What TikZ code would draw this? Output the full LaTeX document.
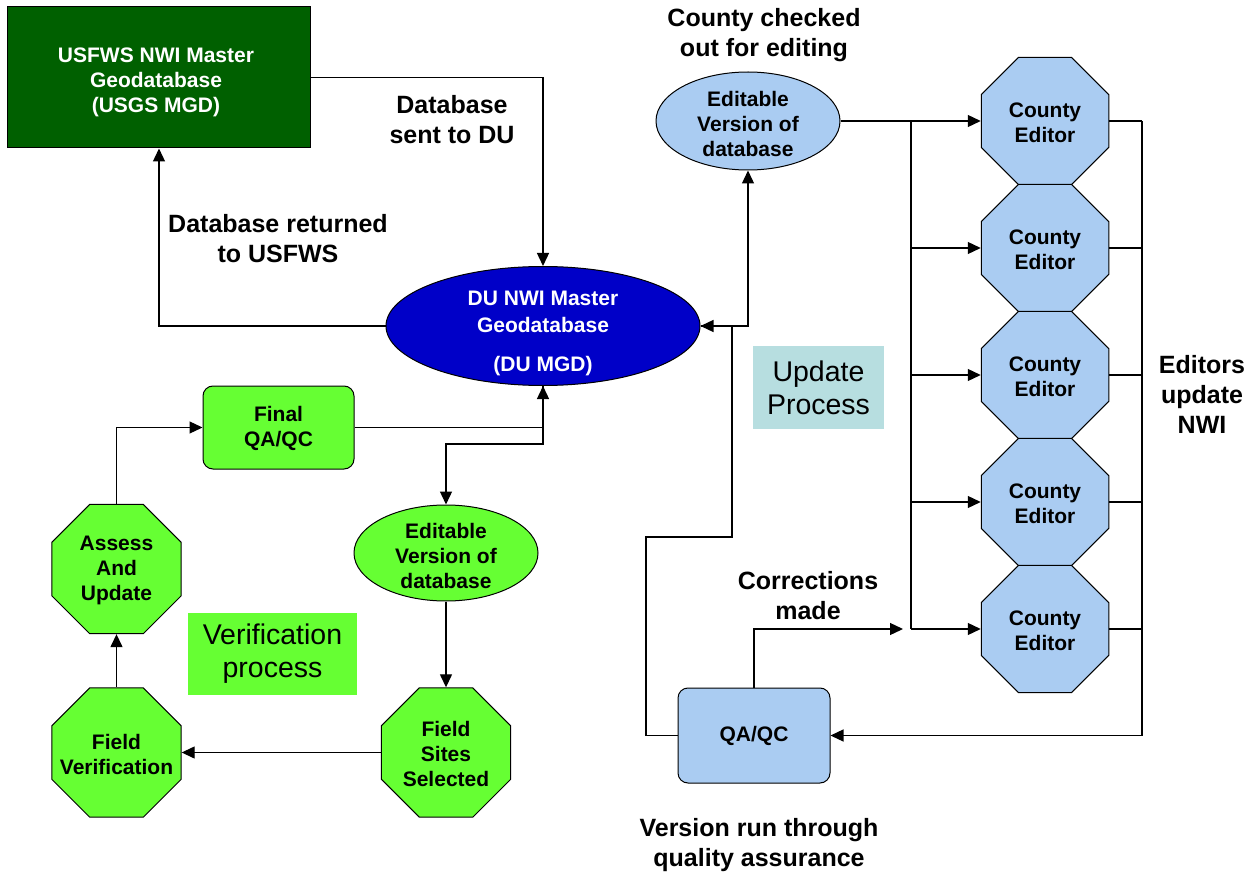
\documentclass[tikz,border=0pt]{standalone}
\usepackage{fontspec}
\setmainfont{Liberation Sans}
\usetikzlibrary{shapes.geometric,arrows.meta}
\definecolor{dkgreen}{RGB}{0,96,0}
\definecolor{dublue}{RGB}{0,0,200}
\definecolor{vgreen}{RGB}{102,255,51}
\definecolor{ltblue}{RGB}{170,204,242}
\definecolor{updcol}{RGB}{183,222,224}
\begin{document}
\begin{tikzpicture}[x=1pt,y=-1pt,
  nfont/.style={font=\fontsize{21}{25}\selectfont\bfseries},
  txt/.style={nfont, align=center, inner sep=0pt},
  lab/.style={font=\fontsize{25}{30}\selectfont\bfseries, align=center, inner sep=0pt},
  big/.style={font=\fontsize{28.5}{33}\selectfont, align=center, inner sep=0pt},
  oct/.style={regular polygon, regular polygon sides=8, draw=black, line width=1pt, inner sep=0pt},
  goct/.style={oct, fill=vgreen, minimum size=140pt},
  boct/.style={oct, fill=ltblue, minimum size=138pt},
  ell/.style={ellipse, draw=black, line width=1pt, inner sep=0pt},
  rbox/.style={rectangle, rounded corners=10pt, draw=black, line width=1pt, inner sep=0pt},
  conn/.style={line width=1.3pt},
  arr/.style={conn, -{Triangle[length=13pt,width=12pt]}},
]
\fill[white] (0,0) rectangle (1256,877);
\path[use as bounding box] (0,0) rectangle (1256,877);

% top-left master
\node[rectangle, draw=black, line width=1pt, fill=dkgreen, minimum width=303pt, minimum height=141pt, inner sep=0pt] (usfws) at (159,77.5) {};
\node[txt, text=white] (usfwst) at (156,82) {USFWS NWI Master\\Geodatabase\\(USGS MGD)};

% DU master
\node[ell, fill=dublue, minimum width=314pt, minimum height=119pt] (du) at (543,326) {};
\node[txt, text=white, font=\fontsize{21}{27}\selectfont\bfseries] (dut) at (543,333) {DU NWI Master\\Geodatabase\\[12pt](DU MGD)};

% blue editable
\node[ell, fill=ltblue, minimum width=184pt, minimum height=98pt] (edb) at (748,121) {};
\node[txt] (edbt) at (748,124) {Editable\\Version of\\database};

% county editors
\foreach \i in {1,...,5}{
  \node[boct] (ce\i) at (1045,{121+127*(\i-1)}) {};
  \node[txt] (ce\i t) at (1045,{122.5+127*(\i-1)}) {County\\Editor};
}

% QA/QC blue
\node[rbox, fill=ltblue, minimum width=152pt, minimum height=95pt] (qa) at (754,735.5) {};
\node[txt] (qat) at (754,736) {QA/QC};

% update process
\node[rectangle, fill=updcol, minimum width=131pt, minimum height=82pt, big] (upd) at (818.5,387.5) {Update\\Process};

% verification side
\node[rbox, fill=vgreen, minimum width=151pt, minimum height=83pt] (fq) at (278.5,427.5) {};
\node[txt] (fqt) at (278.5,428) {Final\\QA/QC};
\node[ell, fill=vgreen, minimum width=184pt, minimum height=96pt] (eg) at (446,553) {};
\node[txt] (egt) at (446,556) {Editable\\Version of\\database};
\node[goct] (fs) at (446,752.5) {};
\node[txt] (fst) at (446,753.5) {Field\\Sites\\Selected};
\node[goct] (fv) at (116.5,752.5) {};
\node[txt] (fvt) at (116.5,754) {Field\\Verification};
\node[goct] (au) at (116.5,569) {};
\node[txt] (aut) at (116.5,570.5) {Assess\\And\\Update};
\node[rectangle, fill=vgreen, minimum width=169pt, minimum height=82pt, big] (ver) at (272.5,653.5) {Verification\\process};

% labels
\node[lab] (l1) at (452,120) {Database\\sent to DU};
\node[lab] (l2) at (278,239) {Database returned\\to USFWS};
\node[lab] (l3) at (764,35) {County checked\\out for editing};
\node[lab] (l4) at (1202,394) {Editors\\update\\NWI};
\node[lab] (l5) at (808,596) {Corrections\\made};
\node[lab] (l6) at (759,845) {Version run through\\quality assurance};

% coordinates
\coordinate (bt) at (911,121);
\coordinate (bb) at (911,629);
\coordinate (rt) at (1142,121);
\coordinate (cm) at (903,629);
\coordinate (q1) at (646,537);
\coordinate (q2) at (732,537);
\coordinate (d1) at (543,444);

% connectors top
\draw[arr] (usfws.east) -| (du.north);
\draw[arr] (du.west) -| (usfws.south);
\draw[arr] (du.east) -| (edb.south);
\draw[arr] (edb.east) -- (ce1.west);
\draw[conn] (bt) -- (bb);
\foreach \i in {2,...,5}{
  \draw[arr] (bt |- ce\i.west) -- (ce\i.west);
}
\foreach \i in {1,...,5}{
  \draw[conn] (ce\i.east) -- (rt |- ce\i.east);
}
\draw[arr] (rt) |- (qa.east);
\draw[arr] (qa.north) |- (cm);
\draw[arr] (qa.west) -| (q1) -- (q2) |- (du.east);

% verification loop
\draw[arr] (fq.east) -| (du.south);
\draw[arr] (du.south) -- (d1) -| (eg.north);
\draw[arr] (eg.south) -- (fs.north);
\draw[arr] (fs.west) -- (fv.east);
\draw[arr] (fv.north) -- (au.south);
\draw[arr] (au.north) |- (fq.west);
\end{tikzpicture}
\end{document}
